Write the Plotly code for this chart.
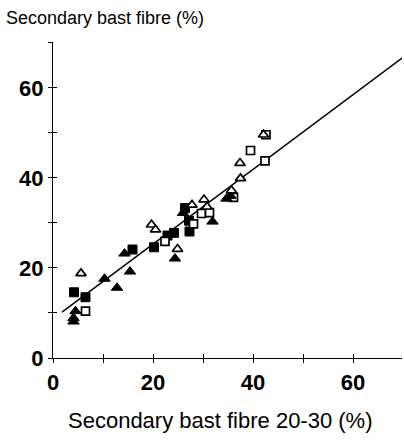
import plotly.graph_objects as go

# Secondary bast fibre: whole stem vs. 20-30 cm segment, four groups
filled_sq_x = [4.2, 6.5, 15.9, 20.2, 22.9, 24.2, 26.4, 27.2, 27.3]
filled_sq_y = [14.6, 13.5, 24.1, 24.6, 27.2, 27.8, 33.3, 30.5, 28.1]

open_sq_x = [6.5, 22.4, 28.1, 29.7, 31.3, 36.1, 39.5, 42.4, 42.6]
open_sq_y = [10.4, 25.9, 29.8, 32.1, 32.3, 35.7, 46.1, 43.8, 49.6]

filled_tri_x = [4.1, 4.1, 4.5, 10.3, 12.8, 14.3, 15.4, 24.4, 26.0, 31.9, 34.7, 35.5]
filled_tri_y = [8.1, 8.9, 10.4, 17.6, 15.6, 23.2, 19.2, 22.1, 32.2, 30.3, 35.4, 36.0]

open_tri_x = [5.6, 19.7, 20.5, 24.9, 27.8, 30.2, 30.8, 35.7, 37.5, 37.4, 42.1, 70.0]
open_tri_y = [18.8, 29.6, 28.5, 24.2, 34.0, 35.2, 33.6, 37.2, 39.9, 43.3, 49.6, 63.5]

# Regression line
fit_intercept = 8.7
fit_slope = 0.83
fit_x = [1.8, 69.8]
fit_y = [fit_intercept + fit_slope * v for v in fit_x]

tick_vals = [0, 10, 20, 30, 40, 50, 60]
tick_text = ["0", "", "20", "", "40", "", "60"]

x_range = [0, 69.8]
y_range = [0, 70.2]

font_family = "Liberation Sans, Arial, sans-serif"

fig = go.Figure()

fig.add_trace(go.Scatter(x=fit_x, y=fit_y, mode="lines",
                         line=dict(color="black", width=1.5), hoverinfo="skip"))

fig.add_trace(go.Scatter(x=filled_sq_x, y=filled_sq_y, mode="markers",
                         marker=dict(symbol="square", size=9, color="black",
                                     line=dict(color="black", width=1))))
fig.add_trace(go.Scatter(x=open_sq_x, y=open_sq_y, mode="markers",
                         marker=dict(symbol="square", size=8, color="white",
                                     line=dict(color="black", width=1.7))))
fig.add_trace(go.Scatter(x=filled_tri_x, y=filled_tri_y, mode="markers",
                         marker=dict(symbol="triangle-up", size=10, color="black",
                                     line=dict(color="black", width=1))))
fig.add_trace(go.Scatter(x=open_tri_x, y=open_tri_y, mode="markers",
                         marker=dict(symbol="triangle-up", size=9, color="white",
                                     line=dict(color="black", width=1.7)),
                         cliponaxis=False))

# invisible trace on the overlay axes so their inside ticks are drawn
fig.add_trace(go.Scatter(x=[None], y=[None], xaxis="x2", yaxis="y2",
                         showlegend=False, hoverinfo="skip"))

tick_style = dict(showgrid=False, zeroline=False, ticklen=4, tickwidth=1.2,
                  tickcolor="black")
label_font = dict(size=22, family=font_family, weight="bold")

fig.update_layout(
    width=404, height=445,
    margin=dict(l=53, r=2, t=42, b=87),
    plot_bgcolor="white", paper_bgcolor="white",
    showlegend=False,
    font=dict(family=font_family, color="black"),
    xaxis=dict(range=x_range, showline=True, linecolor="black", linewidth=1.2,
               ticks="outside", tickvals=tick_vals, ticktext=tick_text,
               tickfont=label_font, **tick_style),
    yaxis=dict(range=y_range, showline=True, linecolor="black", linewidth=1.2,
               ticks="outside", tickvals=tick_vals + [70.2], ticktext=tick_text + [""],
               tickfont=label_font, **tick_style),
    xaxis2=dict(range=x_range, overlaying="x", anchor="y2", side="bottom",
                showline=False, ticks="inside", showticklabels=False,
                tickvals=tick_vals[1:], **tick_style),
    yaxis2=dict(range=y_range, overlaying="y", anchor="x2", side="left",
                showline=False, ticks="inside", showticklabels=False,
                tickvals=tick_vals[1:] + [70.2], **tick_style),
    annotations=[
        dict(text="Secondary bast fibre (%)", xref="paper", yref="paper",
             x=-49 / 349, y=1 + 24 / 316, xanchor="left", yanchor="middle",
             showarrow=False, font=dict(size=18, family=font_family)),
        dict(text="Secondary bast fibre 20-30 (%)", xref="paper", yref="paper",
             x=(220 - 53) / 349, y=-62 / 316, xanchor="center", yanchor="middle",
             showarrow=False, font=dict(size=22, family=font_family)),
    ],
)

fig.write_html("out.html")
